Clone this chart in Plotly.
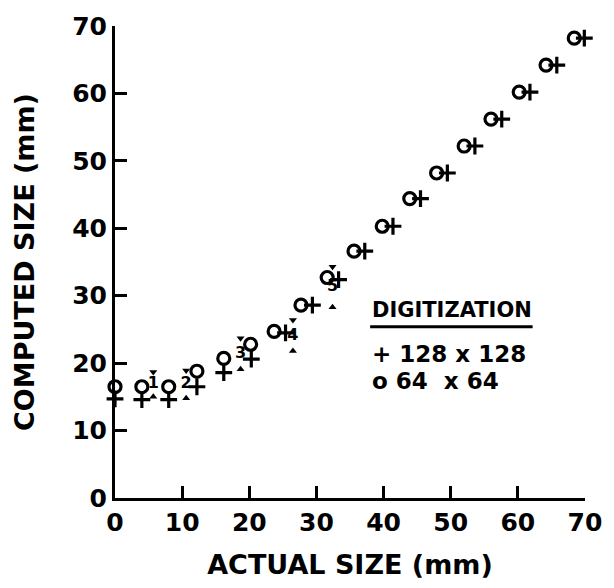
import plotly.graph_objects as go

# 64 x 64 digitization (open circles)
circle_x = [0, 4, 8, 12.2, 16.2, 20.2, 23.7, 27.7, 31.6, 35.6, 39.8, 43.9, 47.9, 52.0, 56.0, 60.2, 64.2, 68.4]
circle_y = [16.5, 16.5, 16.5, 18.8, 20.7, 22.8, 24.7, 28.6, 32.7, 36.6, 40.3, 44.4, 48.2, 52.2, 56.2, 60.2, 64.2, 68.2]

# 128 x 128 digitization (plus signs)
plus_x = [0, 4, 8, 12.2, 16.2, 20.3, 25.4, 29.4, 33.3, 37.2, 41.4, 45.5, 49.5, 53.6, 57.6, 61.8, 65.8, 69.9]
plus_y = [14.7, 14.6, 14.6, 16.5, 18.6, 20.6, 24.5, 28.6, 32.4, 36.6, 40.3, 44.4, 48.2, 52.2, 56.2, 60.2, 64.2, 68.2]

# numbered ranges
range_x = [5.7, 10.6, 18.7, 26.5, 32.4]
range_hi = [18.7, 18.9, 23.7, 26.4, 34.3]
range_lo = [15.0, 14.8, 19.1, 21.8, 28.3]
range_labels = ["1", "2", "3", "4", "5"]

x_ticks = [0, 10, 20, 30, 40, 50, 60, 70]
y_ticks = [0, 10, 20, 30, 40, 50, 60, 70]

FONT = "DejaVu Sans"

fig = go.Figure()

fig.add_trace(go.Scatter(
    x=circle_x, y=circle_y, mode="markers", cliponaxis=False,
    marker=dict(symbol="circle-open", size=12, color="black", line=dict(width=3.2, color="black")),
    showlegend=False))

fig.add_trace(go.Scatter(
    x=plus_x, y=plus_y, mode="markers", cliponaxis=False,
    marker=dict(symbol="cross-thin-open", size=12, color="black", line=dict(width=3.2, color="black")),
    showlegend=False))

fig.add_trace(go.Scatter(
    x=range_x, y=range_hi, mode="markers", cliponaxis=False,
    marker=dict(symbol="triangle-down", size=7, color="black"),
    showlegend=False))
fig.add_trace(go.Scatter(
    x=range_x, y=range_lo, mode="markers", cliponaxis=False,
    marker=dict(symbol="triangle-up", size=7, color="black"),
    showlegend=False))
fig.add_trace(go.Scatter(
    x=range_x, y=[(h + l) / 2 for h, l in zip(range_hi, range_lo)],
    mode="text", text=["<b>" + s + "</b>" for s in range_labels], cliponaxis=False,
    textfont=dict(family=FONT, size=16, color="black"),
    showlegend=False))

# Legend block
fig.add_annotation(x=38.0, y=27.9, xref="x", yref="y", text="<b>DIGITIZATION</b>",
                   showarrow=False, xanchor="left", yanchor="middle",
                   font=dict(family=FONT, size=21, color="black"))
fig.add_shape(type="line", x0=38.0, x1=62.2, y0=25.4, y1=25.4, xref="x", yref="y",
              line=dict(color="black", width=3))
fig.add_annotation(x=38.0, y=21.4, xref="x", yref="y", text="<b>+ 128 x 128</b>",
                   showarrow=False, xanchor="left", yanchor="middle",
                   font=dict(family=FONT, size=23, color="black"))
fig.add_annotation(x=38.0, y=17.3, xref="x", yref="y", text="<b>o 64  x 64</b>",
                   showarrow=False, xanchor="left", yanchor="middle",
                   font=dict(family=FONT, size=23, color="black"))

axis_common = dict(
    showline=True, linecolor="black", linewidth=3, mirror=False,
    ticks="inside", ticklen=12, tickwidth=3, tickcolor="black",
    showgrid=False, zeroline=False,
    tickfont=dict(family=FONT, size=25, color="black"),
)

fig.update_xaxes(range=[0, 70], tickvals=x_ticks, ticktext=["<b>%d</b>" % v for v in x_ticks],
                 title=dict(text="<b>ACTUAL SIZE (mm)</b>", font=dict(family=FONT, size=27, color="black"), standoff=20),
                 **axis_common)
fig.update_yaxes(range=[0, 70], tickvals=y_ticks, ticktext=["<b>%d</b>" % v for v in y_ticks],
                 title=dict(text="<b>COMPUTED SIZE (mm)</b>", font=dict(family=FONT, size=27, color="black"), standoff=30),
                 **axis_common)

fig.update_layout(
    width=614, height=588,
    margin=dict(l=115, r=22, t=23, b=83),
    plot_bgcolor="white", paper_bgcolor="white",
    font=dict(family=FONT, color="black"),
)

fig.write_html("out.html", config={"displayModeBar": False},
               post_script="document.body.style.margin='0px';document.body.style.overflow='hidden';")
